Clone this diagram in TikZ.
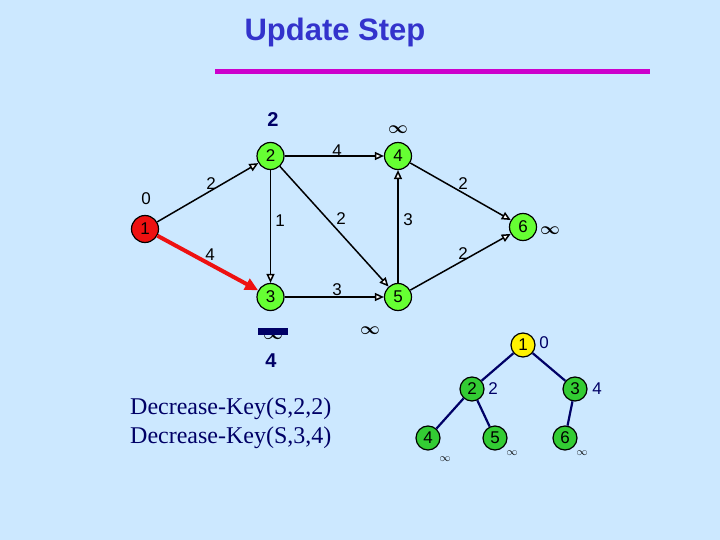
\documentclass[tikz,border=0pt]{standalone}
\usepackage{fontspec}
\setmainfont{Liberation Serif}
\setsansfont{Liberation Sans}
\usetikzlibrary{arrows.meta}
\definecolor{bg}{HTML}{CCE8FF}
\definecolor{titleblue}{HTML}{3333CC}
\definecolor{magline}{HTML}{CC00CC}
\definecolor{gnode}{HTML}{66FF33}
\definecolor{hnode}{HTML}{33CC33}
\definecolor{rnode}{HTML}{EE1111}
\definecolor{navy}{HTML}{000066}
\tikzset{
  gv/.style={circle,draw=black,line width=1.2pt,fill=gnode,minimum size=27pt,inner sep=0pt,font=\sffamily\fontsize{17}{17}\selectfont},
  hv/.style={circle,draw=black,line width=1.2pt,fill=hnode,minimum size=24pt,inner sep=0pt,font=\sffamily\fontsize{17}{17}\selectfont},
  ed/.style={line width=1.5pt,-{Triangle[fill=white,length=9pt,width=8pt]}},
  el/.style={font=\sffamily\fontsize{17}{17}\selectfont,inner sep=0pt},
  dl/.style={font=\sffamily\bfseries\fontsize{20}{20}\selectfont,text=navy,inner sep=0pt},
  inf/.style={font=\fontsize{17}{17}\selectfont\boldmath,inner sep=0pt},
  sinf/.style={font=\fontsize{11}{11}\selectfont,inner sep=0pt},
  he/.style={line width=2.2pt,draw=navy},
  hl/.style={font=\sffamily\fontsize{17}{17}\selectfont,text=navy,inner sep=0pt}
}
\begin{document}
\begin{tikzpicture}[x=1pt,y=-1pt]
\fill[bg] (0,0) rectangle (720,540);
\useasboundingbox (0,0) rectangle (720,540);
\node[font=\sffamily\bfseries\fontsize{31}{31}\selectfont,text=titleblue] (title) at (335,32) {Update Step};
\coordinate (la) at (215,72);
\coordinate (lb) at (650,72);
\draw[magline,line width=5pt] (la) -- (lb);
% graph nodes
\node[gv,fill=rnode] (n1) at (145,229) {1};
\node[gv] (n2) at (270.5,156) {2};
\node[gv] (n4) at (398,156) {4};
\node[gv] (n3) at (270.5,297) {3};
\node[gv] (n5) at (398,297) {5};
\node[gv] (n6) at (523,227) {6};
% edges
\draw[ed] (n1) -- (n2);
\draw[ed] (n2) -- (n4);
\draw[ed] (n2) -- (n3);
\draw[ed] (n2) -- (n5);
\draw[ed] (n5) -- (n4);
\draw[ed] (n4) -- (n6);
\draw[ed] (n5) -- (n6);
\draw[ed] (n3) -- (n5);
\draw[rnode,line width=4pt,-{Triangle[length=13pt,width=12pt]}] (n1) -- (n3);
% edge labels
\node[el] (w12) at (211,184) {2};
\node[el] (w24) at (337,151) {4};
\node[el] (w23) at (280,221) {1};
\node[el] (w25) at (341,219) {2};
\node[el] (w54) at (408,220) {3};
\node[el] (w46) at (463,184) {2};
\node[el] (w13) at (210,255) {4};
\node[el] (w35) at (337,290) {3};
\node[el] (w56) at (463,254) {2};
% distance labels
\node[dl] (d2) at (273,120) {2};
\node[inf] (d4) at (398,130) {$\infty$};
\node[el] (d1) at (146,199) {0};
\node[inf] (d6) at (550,231) {$\infty$};
\node[inf] (d3) at (273,336) {$\infty$};
\fill[navy] (258,328) rectangle (288,335);
\node[dl] (d3n) at (271,361) {4};
\node[inf] (d5) at (370,331) {$\infty$};
% text
\node[anchor=west,font=\fontsize{24}{29}\selectfont,text=navy,align=left,inner sep=0pt] (txt) at (130,423) {Decrease-Key(S,2,2)\\Decrease-Key(S,3,4)};
% heap
\node[hv,fill=yellow] (h1) at (523,345) {1};
\node[hv] (h2) at (472,389) {2};
\node[hv] (h3) at (575,389) {3};
\node[hv] (h4) at (428,438) {4};
\node[hv] (h5) at (495,438) {5};
\node[hv] (h6) at (565,438) {6};
\draw[he] (h1) -- (h2);
\draw[he] (h1) -- (h3);
\draw[he] (h2) -- (h4);
\draw[he] (h2) -- (h5);
\draw[he] (h3) -- (h6);
\node[hl] (k1) at (544,343) {0};
\node[hl] (k2) at (493,389) {2};
\node[hl] (k3) at (597,389) {4};
\node[sinf] (k4) at (445,459) {$\infty$};
\node[sinf] (k5) at (512,453) {$\infty$};
\node[sinf] (k6) at (582,453) {$\infty$};
\end{tikzpicture}
\end{document}
